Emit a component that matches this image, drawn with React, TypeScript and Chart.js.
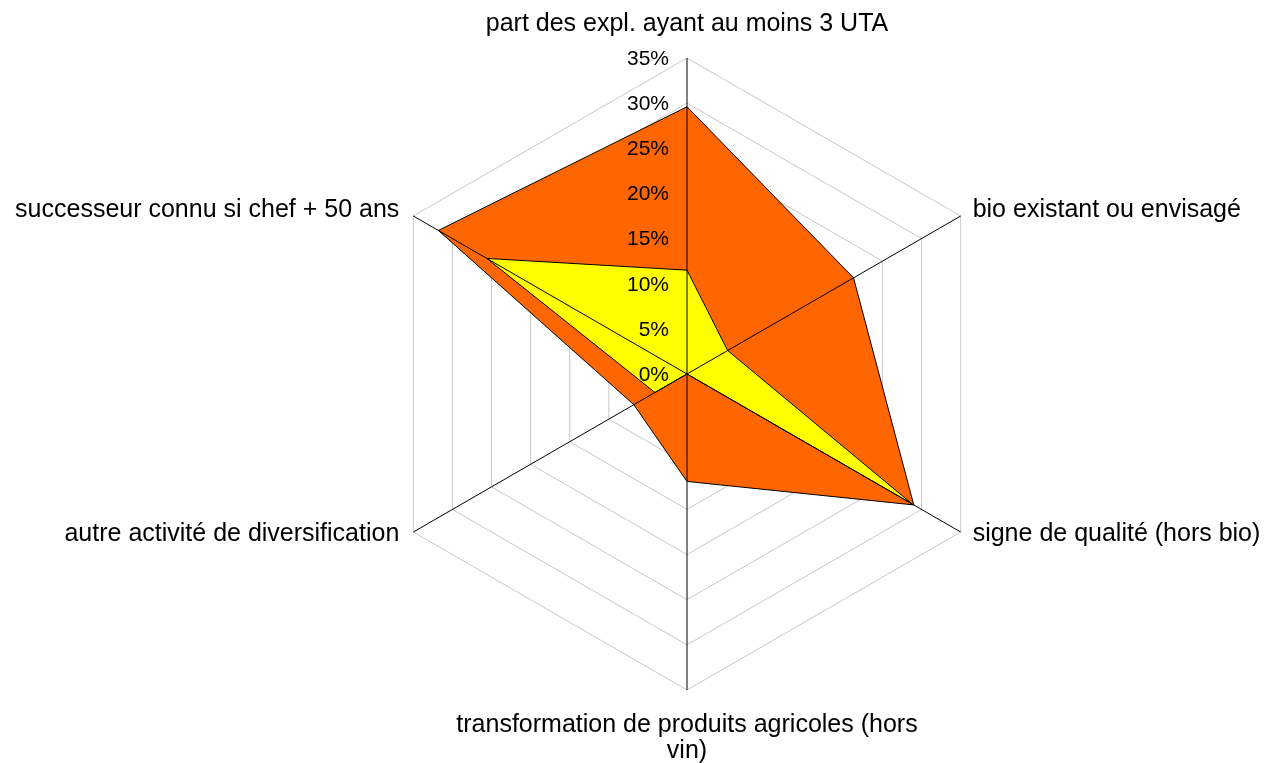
import { useEffect, useRef } from "react";
import { Chart, registerables } from "chart.js";

Chart.register(...registerables);

// Axis categories (clockwise from the top)
const categories: (string | string[])[] = [
  "part des expl. ayant au moins 3 UTA",
  "bio existant ou envisagé",
  "signe de qualité (hors bio)",
  ["transformation de produits agricoles (hors", "vin)"],
  "autre activité de diversification",
  "successeur connu si chef + 50 ans",
];

// Series values, in %
const seriesOrange = [29.6, 21.3, 29.0, 11.9, 6.8, 31.8];
const seriesYellow = [11.5, 5.2, 28.8, 0, 4.1, 25.6];

// Radial tick values and labels
const tickValues = [0, 5, 10, 15, 20, 25, 30, 35];
const tickLabels = ["0%", "5%", "10%", "15%", "20%", "25%", "30%", "35%"];

const FONT = "'Liberation Sans', Arial, sans-serif";

const overlayPlugin = {
  id: "overlay",
  afterDatasetsDraw(chart: any) {
    const scale = chart.scales.r;
    const ctx: CanvasRenderingContext2D = chart.ctx;
    const n = categories.length;
    const cx = scale.xCenter;
    const cy = scale.yCenter;
    const R = scale.drawingArea;
    ctx.save();
    // angle lines drawn above the filled series
    ctx.strokeStyle = "#000000";
    ctx.lineWidth = 1;
    for (let i = 0; i < n; i++) {
      const p = scale.getPointPosition(i, R);
      ctx.beginPath();
      ctx.moveTo(cx, cy);
      ctx.lineTo(p.x, p.y);
      ctx.stroke();
    }
    // radial tick labels, left of the vertical axis
    ctx.fillStyle = "#000000";
    ctx.font = `21px ${FONT}`;
    ctx.textAlign = "right";
    ctx.textBaseline = "middle";
    tickValues.forEach((v, k) => {
      const d = scale.getDistanceFromCenterForValue(v);
      ctx.fillText(tickLabels[k], cx - 18, cy - d + 1);
    });
    // point labels
    ctx.font = `25px ${FONT}`;
    ctx.textBaseline = "alphabetic";
    for (let i = 0; i < n; i++) {
      const p = scale.getPointPosition(i, R);
      const label = categories[i];
      const lines = Array.isArray(label) ? label : [label];
      const cos = Math.cos(p.angle);
      const sin = Math.sin(p.angle);
      if (Math.abs(cos) < 0.01) {
        ctx.textAlign = "center";
        if (sin < 0) {
          ctx.fillText(lines[0], p.x, p.y - 27);
        } else {
          lines.forEach((ln, k) => ctx.fillText(ln, p.x, p.y + 42 + k * 26));
        }
      } else {
        ctx.textAlign = cos > 0 ? "left" : "right";
        const x = p.x + (cos > 0 ? 12 : -14);
        const y = p.y + (sin < 0 ? 1 : 9);
        ctx.fillText(lines[0], x, y);
      }
    }
    ctx.restore();
  },
};

export default function App() {
  const ref = useRef<HTMLCanvasElement | null>(null);
  useEffect(() => {
    if (!ref.current) return;
    const chart = new Chart(ref.current, {
      type: "radar",
      data: {
        labels: categories,
        datasets: [
          {
            label: "série 2",
            data: seriesYellow,
            backgroundColor: "#FFFF00",
            borderColor: "#000000",
            borderWidth: 1,
            pointRadius: 0,
            fill: true,
          },
          {
            label: "série 1",
            data: seriesOrange,
            backgroundColor: "#FF6600",
            borderColor: "#000000",
            borderWidth: 1,
            pointRadius: 0,
            fill: true,
          },
        ],
      },
      options: {
        animation: false,
        responsive: true,
        maintainAspectRatio: false,
        layout: { padding: { left: 371, top: 58, right: 263, bottom: 73 } },
        plugins: { legend: { display: false }, tooltip: { enabled: false } },
        elements: { line: { tension: 0 } },
        scales: {
          r: {
            min: 0,
            max: 35,
            ticks: { stepSize: 5, display: false },
            grid: { color: "#C8C8C8", lineWidth: 1 },
            angleLines: { display: false },
            pointLabels: { display: false },
          },
        },
      },
      plugins: [overlayPlugin],
    });
    return () => chart.destroy();
  }, []);
  return (
    <div style={{ position: "fixed", left: 0, top: 0, width: 1266, height: 763, background: "#fff" }}>
      <canvas ref={ref} />
    </div>
  );
}
